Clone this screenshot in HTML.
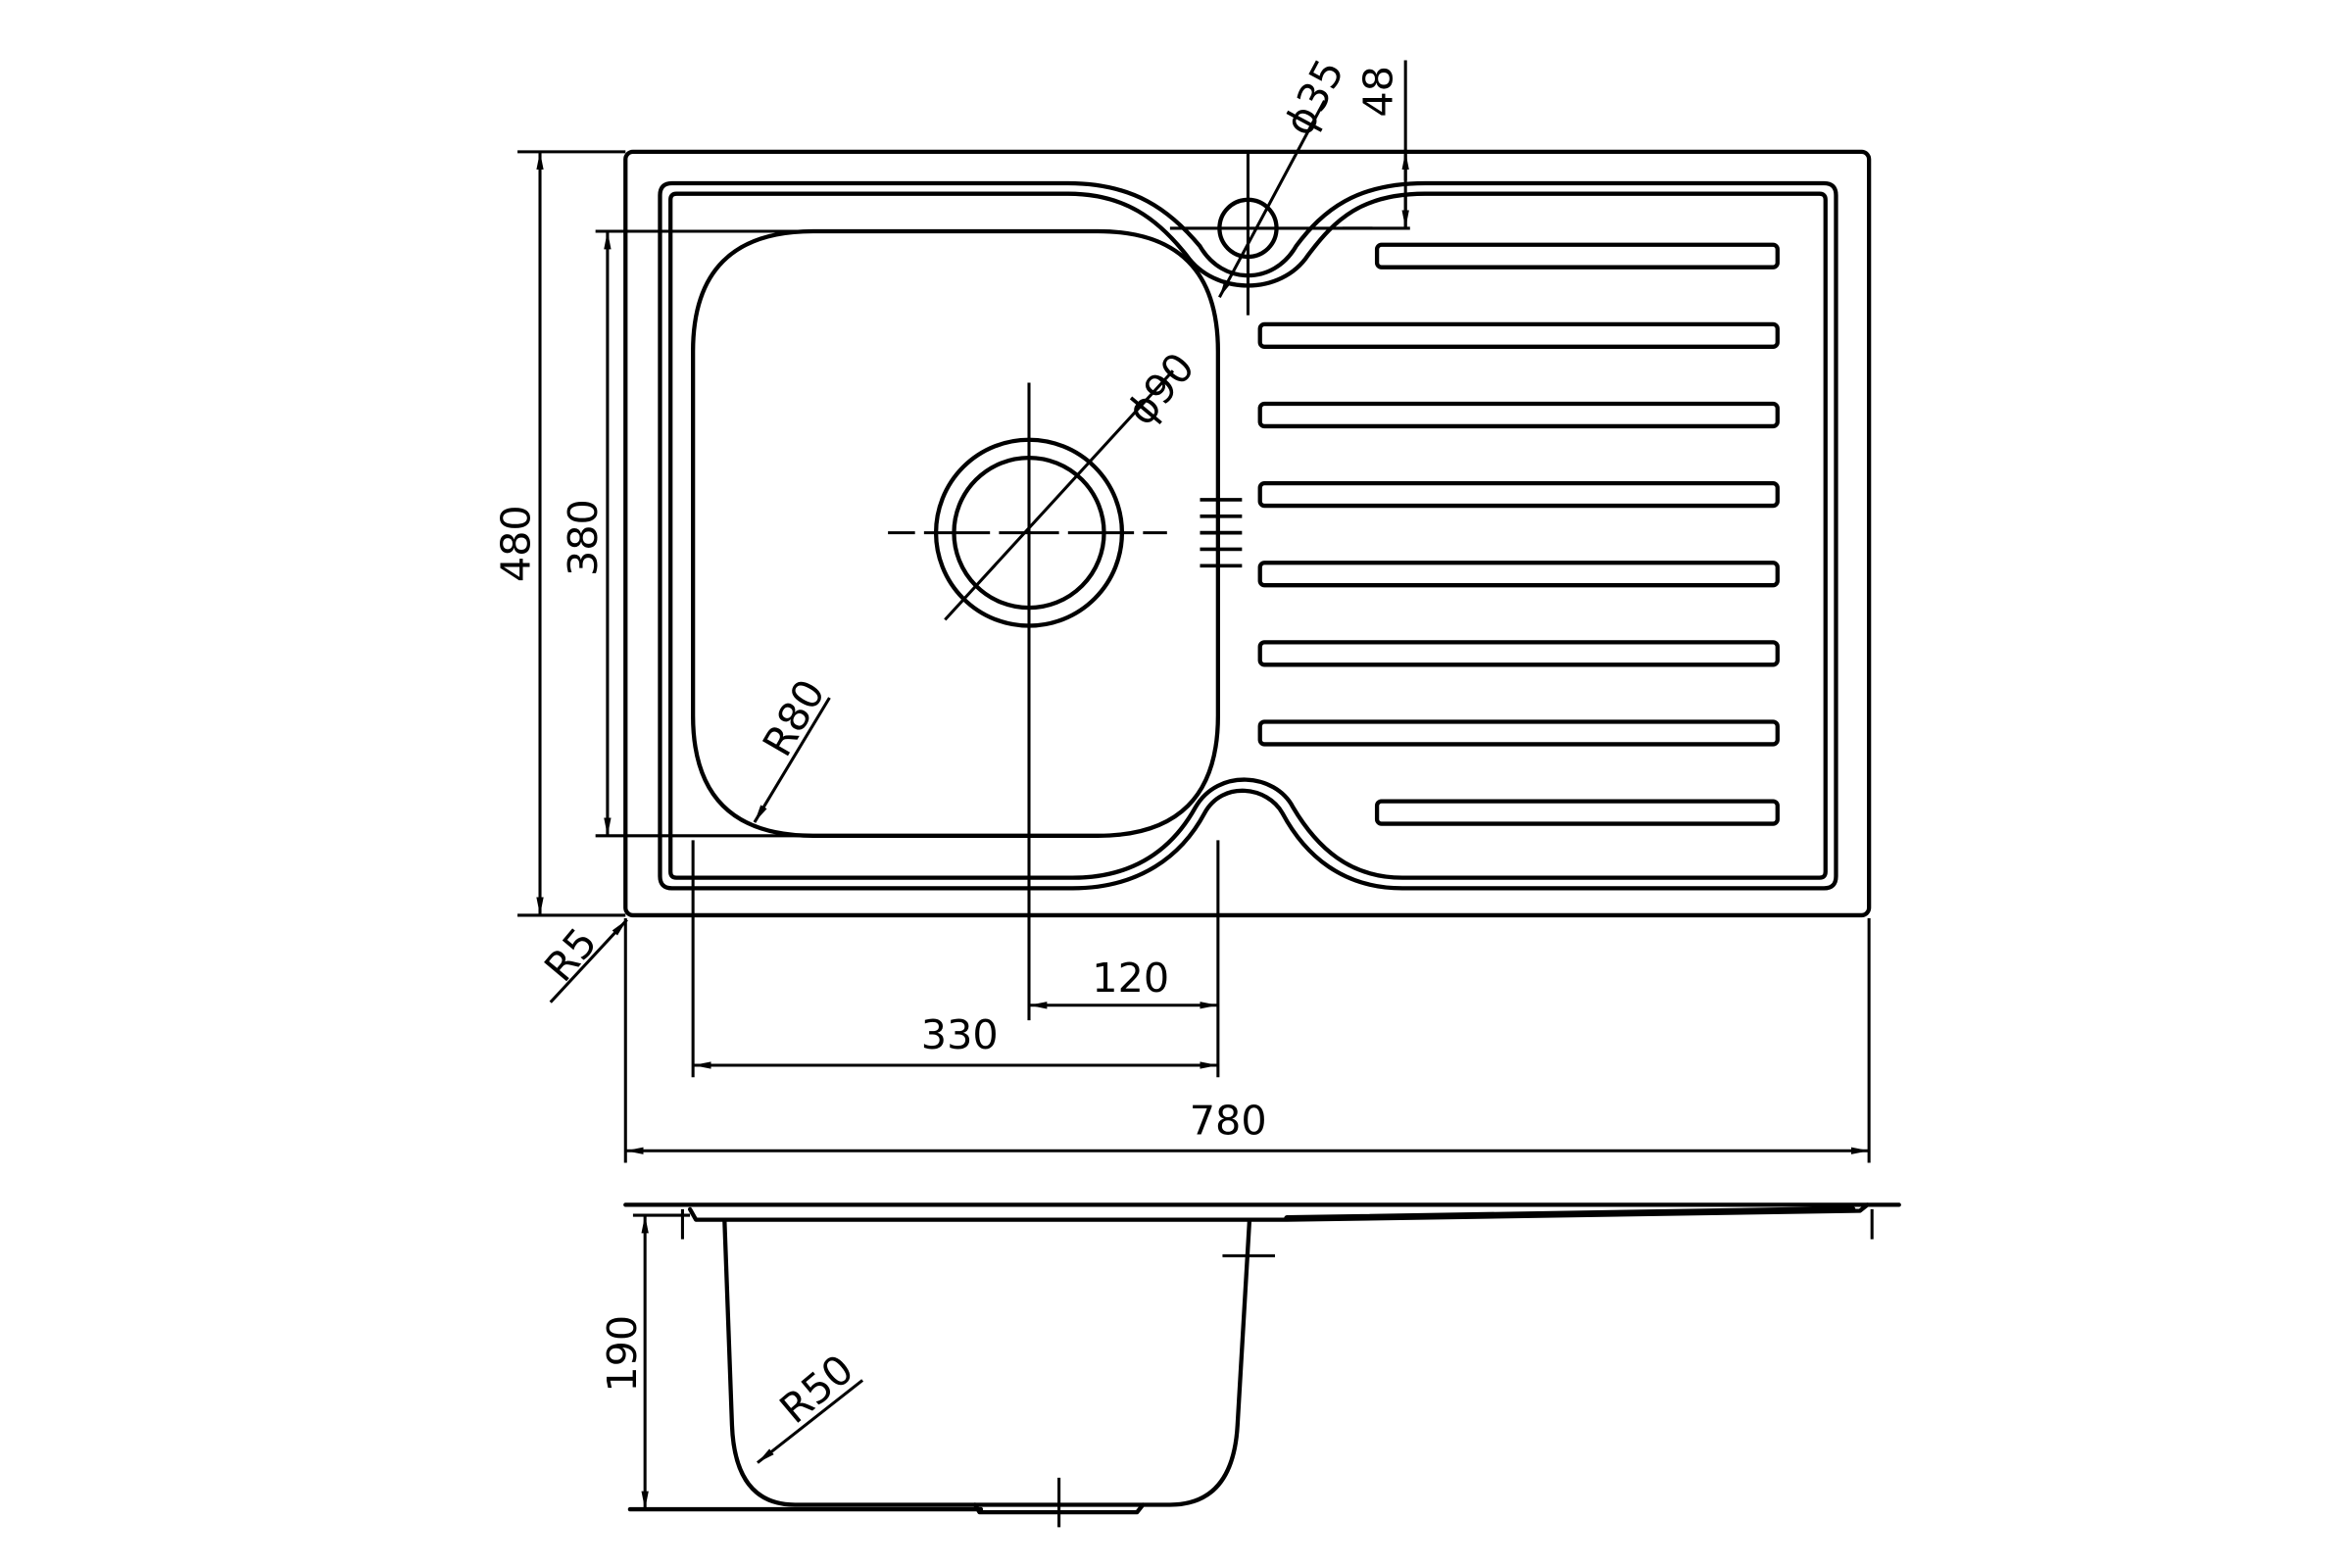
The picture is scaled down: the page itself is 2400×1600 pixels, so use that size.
<!DOCTYPE html>
<html><head><meta charset="utf-8"><style>
html,body{margin:0;padding:0;background:#fff;width:2400px;height:1600px;overflow:hidden}
svg{display:block}
text{font-family:"DejaVu Sans","Liberation Sans",sans-serif;font-size:27px;fill:#000}
</style></head><body>
<svg width="2400" height="1600" viewBox="0 0 1568 1045" xmlns="http://www.w3.org/2000/svg">
<defs>
<marker id="a" viewBox="0 0 10 10" refX="10" refY="5" markerWidth="12" markerHeight="12" markerUnits="userSpaceOnUse" orient="auto-start-reverse"><path d="M0,3 L10,5 L0,7 z" fill="#000"/></marker>
</defs>
<g fill="none" stroke="#000" stroke-width="2.8" stroke-linecap="round" stroke-linejoin="round">
<rect x="417" y="101" width="829" height="509" rx="5"/>
<path d="M448,122 H712 C756,122 780,140 800,164 C815,190 849,190 864,164 C882,140 904,122 950,122 H1216 Q1224,122 1224,130 V584 Q1224,592 1216,592 H935 C895,592 870,570 855,542 C845,524 815,520 803,542 C788,570 760,592 715,592 H448 Q440,592 440,584 V130 Q440,122 448,122 Z"/>
<path d="M451,129 H712 C750,129 772,146 791,170 C810,197 854,197 872,170 C890,146 908,129 950,129 H1213 Q1217,129 1217,133 V581 Q1217,585 1213,585 H935 C900,585 878,565 862,538 C850,515 812,512 797,538 C782,565 757,585 715,585 H451 Q447,585 447,581 V133 Q447,129 451,129 Z"/>
<path d="M542,154 H732 Q812,154 812,234 V477 Q812,557 732,557 H542 Q462,557 462,477 V234 Q462,154 542,154 Z"/>
<circle cx="686" cy="355" r="62"/>
<circle cx="686" cy="355" r="50"/>
<circle cx="832" cy="152" r="19"/>
<rect x="918" y="163" width="267" height="15" rx="3"/>
<rect x="840" y="216" width="345" height="15" rx="3"/>
<rect x="840" y="269" width="345" height="15" rx="3"/>
<rect x="840" y="322" width="345" height="15" rx="3"/>
<rect x="840" y="375" width="345" height="15" rx="3"/>
<rect x="840" y="428" width="345" height="15" rx="3"/>
<rect x="840" y="481" width="345" height="15" rx="3"/>
<rect x="918" y="534" width="267" height="15" rx="3"/>
<path d="M417,803 H1266"/>
<path d="M460,806 L464,813 H858 L1240,807 L1245,803"/>
<path d="M858,812 L1235,806" stroke-width="4"/>
<path d="M483,813 L488,950 Q490,1003 530,1003 H780 Q822,1003 825,950 L833,813"/>
<path d="M650,1003 L653,1008 H758 L762,1003"/>
<path d="M420,1006 H654"/>
</g>
<g fill="none" stroke="#000" stroke-width="2">
<path d="M592,355 H610 M616,355 H660 M666,355 H706 M712,355 H756 M762,355 H778"/>
<path d="M686,255 V680"/>
<path d="M780,152 H915 M832,102 V210"/>
<path d="M800,333 H828 M800,344 H828 M800,355 H828 M800,366 H828 M800,377 H828" stroke-width="2.4"/>
<path d="M813,198 L883,67" marker-start="url(#a)"/>
<path d="M630,413 L782,247"/>
<path d="M503,548 L553,465" marker-start="url(#a)"/>
<path d="M367,668 L418,613" marker-end="url(#a)"/>
<path d="M505,975 L575,920" marker-start="url(#a)"/>
<path d="M937,40 V152 M895,152 H940"/>
<path d="M937,120 V101" marker-end="url(#a)"/>
<path d="M937,130 V152" marker-end="url(#a)"/>
<path d="M345,101 H417 M345,610 H417"/>
<path d="M360,101 V610" marker-start="url(#a)" marker-end="url(#a)"/>
<path d="M397,154 H540 M397,557 H690"/>
<path d="M405,154 V557" marker-start="url(#a)" marker-end="url(#a)"/>
<path d="M812,560 V718 M462,560 V718 M417,612 V775 M1246,612 V775"/>
<path d="M686,670 H812" marker-start="url(#a)" marker-end="url(#a)"/>
<path d="M462,710 H812" marker-start="url(#a)" marker-end="url(#a)"/>
<path d="M417,767 H1246" marker-start="url(#a)" marker-end="url(#a)"/>
<path d="M455,806 V826 M1248,806 V826 M815,837 H850 M706,985 V1018 M422,810 H460"/>
<path d="M430,810 V1006" marker-start="url(#a)" marker-end="url(#a)"/>
</g>
<text transform="translate(872,92) rotate(-62)">ϕ35</text>
<text transform="translate(928,78) rotate(-90)">48</text>
<text transform="translate(764,285) rotate(-50)">ϕ90</text>
<text transform="translate(524,506) rotate(-60)">R80</text>
<text transform="translate(376,656) rotate(-50)">R5</text>
<text transform="translate(353,388) rotate(-90)">480</text>
<text transform="translate(398,384) rotate(-90)">380</text>
<text x="728" y="661">120</text>
<text x="614" y="699">330</text>
<text x="793" y="756">780</text>
<text transform="translate(424,928) rotate(-90)">190</text>
<text transform="translate(530,950) rotate(-40)">R50</text>
</svg>
</body></html>
